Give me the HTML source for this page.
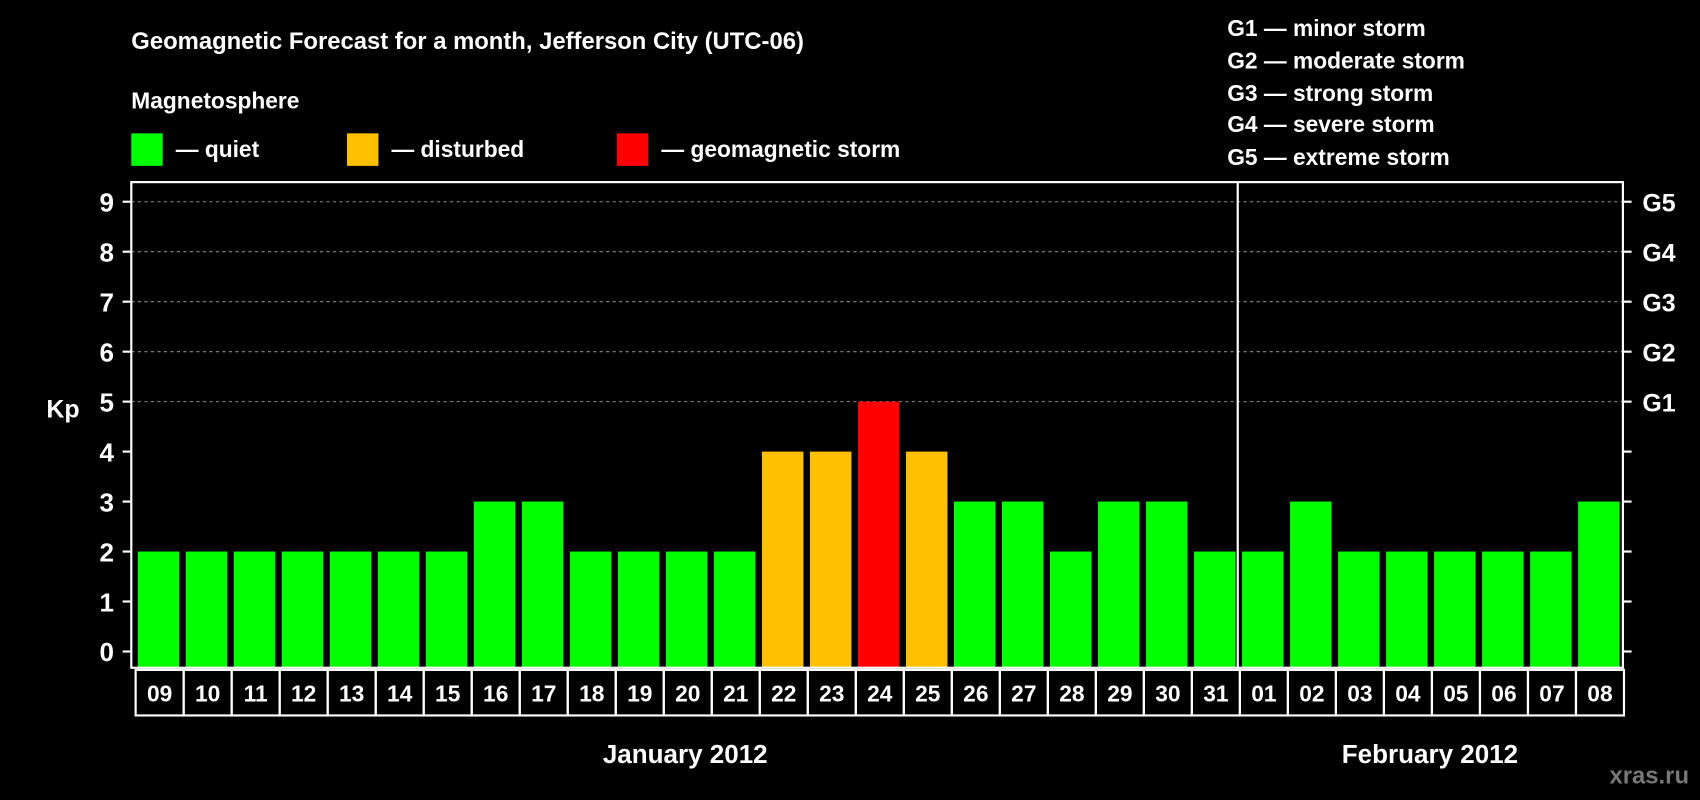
<!DOCTYPE html>
<html><head><meta charset="utf-8"><style>html,body{margin:0;padding:0;background:#000;}svg{display:block;}</style></head>
<body>
<svg id="chart" width="1700" height="800" viewBox="0 0 1568 738" xmlns="http://www.w3.org/2000/svg" font-family="Liberation Sans, sans-serif" font-weight="bold" fill="#fff">
<rect width="1568" height="738" fill="#000"/>
<text x="121" y="45" font-size="22">Geomagnetic Forecast for a month, Jefferson City (UTC-06)</text>
<text x="121" y="100" font-size="21">Magnetosphere</text>
<g><rect x="121" y="123" width="29" height="30" fill="#00ff00"/><text x="162" y="145" font-size="21">— quiet</text></g>
<g><rect x="320" y="123" width="29" height="30" fill="#ffc000"/><text x="361" y="145" font-size="21">— disturbed</text></g>
<g><rect x="569" y="123" width="29" height="30" fill="#ff0000"/><text x="610" y="145" font-size="21">— geomagnetic storm</text></g>
<g font-size="21">
<text x="1132" y="33">G1 — minor storm</text>
<text x="1132" y="63">G2 — moderate storm</text>
<text x="1132" y="93">G3 — strong storm</text>
<text x="1132" y="122">G4 — severe storm</text>
<text x="1132" y="152">G5 — extreme storm</text>
</g>
<text x="58" y="385" font-size="23" text-anchor="middle">Kp</text>
<g id="grid"></g>
<g id="bars"></g>
<g id="axes"></g>
<text x="632" y="704" font-size="24" text-anchor="middle">January 2012</text>
<text x="1319" y="704" font-size="24" text-anchor="middle">February 2012</text>
<text x="1558" y="723" font-size="22" text-anchor="end" fill="#777">xras.ru</text>
</svg>
<script>
const days = ["09","10","11","12","13","14","15","16","17","18","19","20","21","22","23","24","25","26","27","28","29","30","31","01","02","03","04","05","06","07","08"];
const kpValues = [2,2,2,2,2,2,2,3,3,2,2,2,2,4,4,5,4,3,3,2,3,3,2,2,3,2,2,2,2,2,3];
const yTicks = [0,1,2,3,4,5,6,7,8,9];
const gLabels = ["G1","G2","G3","G4","G5"];
const gLevels = [5,6,7,8,9];

const NS = "http://www.w3.org/2000/svg";
const L = 121, R = 1497, T = 168, B = 616, cellL = 124, cellW = (1497 - 124) / days.length;
const y = v => 601 - 46.1 * v;
const x = i => cellL + i * cellW;
function mk(tag, attrs, parent) { const e = document.createElementNS(NS, tag); for (const k in attrs) e.setAttribute(k, attrs[k]); parent.appendChild(e); return e; }
const grid = document.getElementById('grid'), bars = document.getElementById('bars'), axes = document.getElementById('axes');

gLevels.forEach((lv, i) => {
  const ln = mk('line', {x1: L, x2: R, y1: y(lv), y2: y(lv), stroke: '#888', 'stroke-dasharray': '3,3', 'stroke-width': 1}, grid);
  
  
  const t = mk('text', {x: 1515, y: y(lv) + 9, 'font-size': 23}, axes);
  t.textContent = gLabels[i];
  
  
});

kpValues.forEach((v, i) => {
  const c = v >= 5 ? '#ff0000' : v >= 4 ? '#ffc000' : '#00ff00';
  const b = mk('rect', {x: x(i) + 3, y: y(v), width: cellW - 6, height: B - y(v), fill: c}, bars);
  
  
  const cell = mk('rect', {x: x(i) + 1, y: 618, width: cellW, height: 42, fill: 'none', stroke: '#fff', 'stroke-width': 2}, axes);
  
  
  const t = mk('text', {x: x(i) + 1 + cellW / 2, y: 647, 'font-size': 21, 'text-anchor': 'middle'}, axes);
  t.textContent = days[i];
  
  
});

const frame = mk('rect', {x: L, y: T, width: R - L, height: B - T, fill: 'none', stroke: '#fff', 'stroke-width': 2}, axes);


const sep = mk('line', {x1: x(23) - 1, x2: x(23) - 1, y1: T, y2: B, stroke: '#fff', 'stroke-width': 2}, axes);



yTicks.forEach(v => {
  mk('line', {x1: 113, x2: L, y1: y(v), y2: y(v), stroke: '#fff', 'stroke-width': 2}, axes);
  mk('line', {x1: R, x2: 1505, y1: y(v), y2: y(v), stroke: '#fff', 'stroke-width': 2}, axes);
  const t = mk('text', {x: 105, y: y(v) + 9, 'font-size': 24, 'text-anchor': 'end'}, axes);
  t.textContent = v;
  
  
});
</script>
</body></html>
